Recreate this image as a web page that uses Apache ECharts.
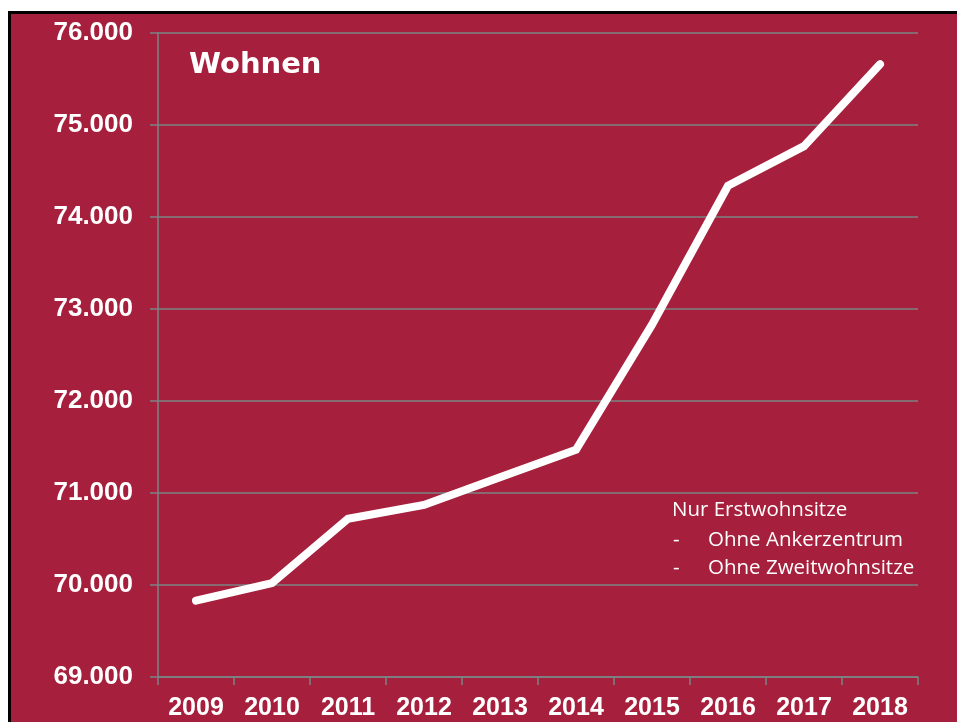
<!DOCTYPE html>
<html>
<head>
<meta charset="utf-8">
<title>Wohnen</title>
<script src="https://cdn.jsdelivr.net/npm/echarts@6/dist/echarts.min.js"></script>
<style>
  html, body { margin: 0; padding: 0; background: #fff; }
  #chart { width: 957px; height: 722px; }
</style>
</head>
<body>
<div id="chart"></div>
<script>
// Jahre (x-Achse)
var years = ['2009', '2010', '2011', '2012', '2013', '2014', '2015', '2016', '2017', '2018'];
// Einwohner mit Erstwohnsitz
var residents = [69830, 70020, 70720, 70870, 71170, 71470, 72830, 74340, 74770, 75660];
// Hinweis-Text rechts unten
var noteHead = 'Nur Erstwohnsitze';
var noteItems = ['Ohne Ankerzentrum', 'Ohne Zweitwohnsitze'];

var bgRed = '#a61f3c';
var gridGray = '#7a8585';

// deutsche Tausendertrennung
function formatDe(v) {
    return String(v).replace(/\B(?=(\d{3})+(?!\d))/g, '.');
}

var noteFont = '20.5px "Open Sans"';
var noteGraphics = [
    {
        type: 'text', left: 672, top: 500,
        style: { text: noteHead, fill: '#fff', font: noteFont }
    }
];
noteItems.forEach(function (item, i) {
    noteGraphics.push({
        type: 'text', left: 673, top: 530 + i * 28,
        style: { text: '-', fill: '#fff', font: noteFont }
    });
    noteGraphics.push({
        type: 'text', left: 708, top: 530 + i * 28,
        style: { text: item, fill: '#fff', font: noteFont }
    });
});

var myChart = echarts.init(document.getElementById('chart'), null, { renderer: 'canvas' });

myChart.setOption({
    backgroundColor: bgRed,
    animation: false,
    grid: {
        left: 158,
        top: 33,
        width: 760,
        height: 644,
        containLabel: false
    },
    xAxis: {
        type: 'category',
        data: years,
        boundaryGap: true,
        axisLine: { show: true, lineStyle: { color: gridGray, width: 1.5 } },
        axisTick: { show: true, length: 8, alignWithLabel: false, lineStyle: { color: gridGray, width: 1.5 } },
        axisLabel: {
            color: '#fff',
            fontFamily: '"Liberation Sans", Arial, sans-serif',
            fontWeight: 'bold',
            fontSize: 25,
            margin: 19
        },
        splitLine: { show: false }
    },
    yAxis: {
        type: 'value',
        min: 69000,
        max: 76000,
        interval: 1000,
        axisLine: { show: true, lineStyle: { color: gridGray, width: 1.5 } },
        axisTick: { show: true, length: 8, lineStyle: { color: gridGray, width: 1.5 } },
        axisLabel: {
            color: '#fff',
            fontFamily: '"Liberation Sans", Arial, sans-serif',
            fontWeight: 'bold',
            fontSize: 26,
            margin: 25,
            formatter: formatDe
        },
        splitLine: { show: true, lineStyle: { color: gridGray, width: 1.5 } }
    },
    series: [
        {
            name: 'Wohnen',
            type: 'line',
            data: residents,
            symbol: 'none',
            lineStyle: { color: '#fff', width: 8, cap: 'round', join: 'miter' },
            z: 5
        }
    ],
    graphic: [
        // weißer Rand und schwarze Rahmenlinie
        { type: 'rect', shape: { x: 0, y: 0, width: 957, height: 11 }, style: { fill: '#fff' }, z: 100 },
        { type: 'rect', shape: { x: 0, y: 0, width: 8, height: 722 }, style: { fill: '#fff' }, z: 100 },
        { type: 'rect', shape: { x: 8, y: 11, width: 949, height: 3 }, style: { fill: '#000' }, z: 101 },
        { type: 'rect', shape: { x: 8, y: 11, width: 3, height: 711 }, style: { fill: '#000' }, z: 101 },
        {
            type: 'text', left: 189, top: 51,
            style: { text: 'Wohnen', fill: '#fff', font: 'bold 29px "DejaVu Sans"' }
        }
    ].concat(noteGraphics)
});
</script>
</body>
</html>
